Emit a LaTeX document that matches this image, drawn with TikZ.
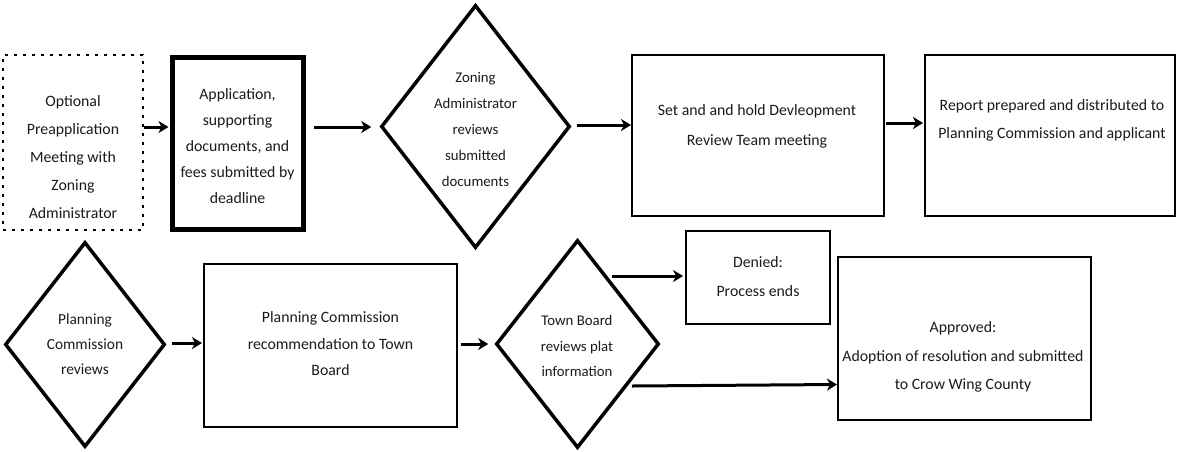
\documentclass[tikz,border=0pt]{standalone}
\usepackage{fontspec}
\setmainfont{Carlito}
\usetikzlibrary{shapes.geometric,arrows.meta,calc}
\definecolor{txtc}{HTML}{1E1A18}
\tikzset{
  boxn/.style={draw=black,line width=2pt,rectangle,inner sep=0pt,fill=none},
  thickbox/.style={draw=black,line width=5pt,rectangle,inner sep=0pt},
  dotbox/.style={draw=black,line width=2.6pt,rectangle,inner sep=0pt,dash pattern=on 2.6pt off 6.4pt},
  dia/.style={draw=black,line width=3.5pt,diamond,inner sep=0pt},
  txt/.style={text=txtc,align=center,inner sep=0pt,font=\fontsize{15.8}{#1}\selectfont},
  dtxt/.style={text=txtc,align=center,inner sep=0pt,font=\fontsize{14.8}{#1}\selectfont},
  arr/.style={draw=black,line width=3pt,-{Stealth[length=10pt,width=12pt,inset=3pt]}}
}
\begin{document}
\begin{tikzpicture}[x=1pt,y=-1pt]
\useasboundingbox[fill=white] (0,0) rectangle (1177,451);
% top row
\node[dotbox,minimum width=140pt,minimum height=175pt] (b1) at (73,142.5) {};
\node[txt=28pt] (t1) at (73,157) {Optional\\Preapplication\\Meeting with\\Zoning\\Administrator};
\node[thickbox,minimum width=131pt,minimum height=172pt] (b2) at (237.5,143) {};
\node[txt=26pt] (t2) at (237.5,146) {Application,\\supporting\\documents, and\\fees submitted by\\deadline};
\node[dia,minimum width=189pt,minimum height=243pt] (d1) at (475.5,126.5) {};
\node[dtxt=26pt] (t3) at (475.5,129) {Zoning\\Administrator\\reviews\\submitted\\documents};
\node[boxn,minimum width=252pt,minimum height=161pt] (b3) at (758,135.5) {};
\node[txt=30pt] (t4) at (757,126) {Set and and hold Devleopment\\Review Team meeting};
\node[boxn,minimum width=250pt,minimum height=161pt] (b4) at (1050,135.5) {};
\node[txt=28pt] (t5) at (1052,120) {Report prepared and distributed to\\Planning Commission and applicant};
% bottom row
\node[dia,minimum width=160pt,minimum height=205pt] (d2) at (85,344.5) {};
\node[dtxt=25pt,font=\fontsize{15.4}{25}\selectfont] (t6) at (85,344) {Planning\\Commission\\reviews};
\node[boxn,minimum width=253pt,minimum height=163pt] (b5) at (330.5,345.5) {};
\node[txt=26.5pt] (t7) at (330.5,344) {Planning Commission\\recommendation to Town\\Board};
\node[dia,minimum width=163pt,minimum height=208pt] (d3) at (577.5,344) {};
\node[dtxt=25.5pt] (t8) at (577,346) {Town Board\\reviews plat\\information};
\node[boxn,line width=1.8pt,minimum width=144pt,minimum height=93pt] (b6) at (758,277.5) {};
\node[txt=29pt] (t9) at (758,277) {Denied:\\Process ends};
\node[boxn,minimum width=253pt,minimum height=163pt] (b7) at (964.5,338.5) {};
\node[txt=28.5pt] (t10) at (963,357) {Approved:\\Adoption of resolution and submitted\\to Crow Wing County};
% connectors
\coordinate (s1) at ($(b1.east)+(0,-15.5)$);
\draw[arr,shorten >=1pt] (s1) -- (s1 -| b2.west);
\coordinate (s2) at ($(b2.east)+(8,-16)$);
\draw[arr,shorten >=8pt] (s2) -- (s2 -| d1.west);
\coordinate (s3) at ($(d1.east)+(5,-1.5)$);
\draw[arr,shorten >=0pt] (s3) -- (s3 -| b3.west);
\coordinate (s4) at ($(b3.east)+(1,-12.5)$);
\draw[arr,shorten >=1pt] (s4) -- (s4 -| b4.west);
\coordinate (s5) at ($(d2.east)+(5,-1.5)$);
\draw[arr,shorten >=1pt] (s5) -- (s5 -| b5.west);
\coordinate (s6) at ($(b5.east)+(3,-1.5)$);
\draw[arr,shorten >=6pt] (s6) -- (s6 -| d3.west);
\coordinate (s7) at ($(d3.center)+(34.5,-68)$);
\draw[arr,shorten >=2pt] (s7) -- (s7 -| b6.west);
\coordinate (s8) at ($(d3.center)+(54.5,42)$);
\draw[arr,shorten >=0pt] (s8) -- ($(b7.west)+(0,46)$);
\end{tikzpicture}
\end{document}
